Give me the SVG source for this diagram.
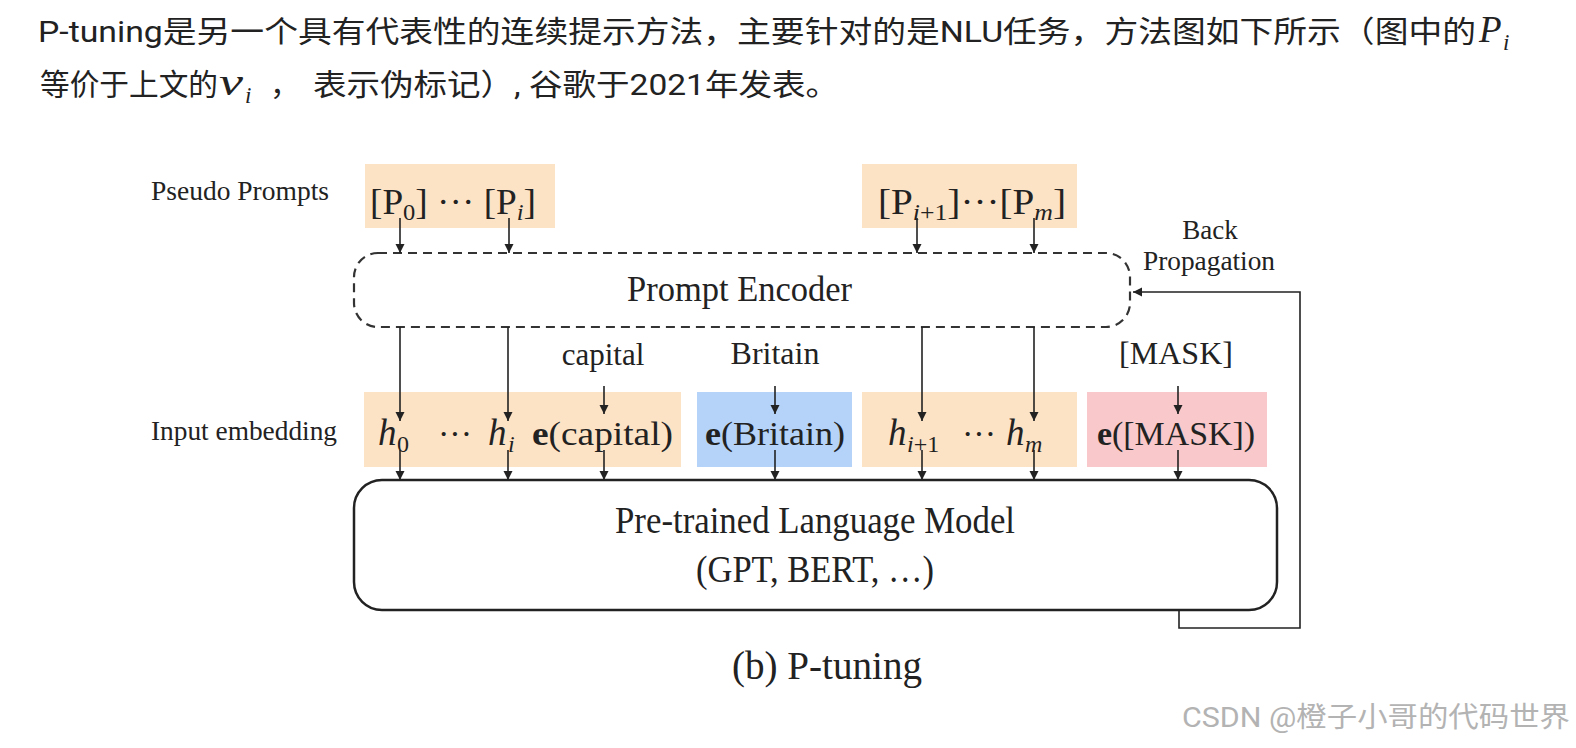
<svg xmlns="http://www.w3.org/2000/svg" width="1576" height="748" viewBox="0 0 1576 748">
<style>
.para{font-family:Roboto,"Noto Sans CJK SC",sans-serif;font-size:30px;fill:#222}
.mi{font-family:"Liberation Serif",serif;font-style:italic;fill:#222}
.t{font-family:"Liberation Serif",serif;fill:#222}
.lbl{font-size:27px}
.peach{fill:#fde3c6}
.blue{fill:#b5d3f8}
.pink{fill:#f8c8ca}
.ar{stroke:#222;stroke-width:1.6;fill:none;marker-end:url(#ah)}
.b{font-weight:bold}
</style>
<defs>
<marker id="ah" viewBox="0 0 10 10" refX="10" refY="5" markerWidth="9" markerHeight="10" markerUnits="userSpaceOnUse" orient="auto">
<path d="M0,0 L10,5 L0,10 z" fill="#222"/>
</marker>
</defs>
<rect width="1576" height="748" fill="#fff"/>

<g id="paragraph">
<text class="para" x="38" y="42" textLength="1438" lengthAdjust="spacingAndGlyphs">P-tuning是另一个具有代表性的连续提示方法，主要针对的是NLU任务，方法图如下所示（图中的</text>
<text class="mi" x="1479" y="42" font-size="37">P</text>
<text class="mi" x="1503" y="50" font-size="23">i</text>
<text class="para" x="40" y="95" textLength="178" lengthAdjust="spacingAndGlyphs">等价于上文的</text>
<text class="mi" x="219" y="95" font-size="38" textLength="24" lengthAdjust="spacingAndGlyphs">v</text>
<text class="mi" x="245" y="103" font-size="23">i</text>
<text class="para" x="270" y="95">，</text>
<text class="para" x="313" y="95" textLength="526" lengthAdjust="spacingAndGlyphs">表示伪标记）, 谷歌于2021年发表。</text>
</g>

<g id="row-labels">
<text class="t lbl" x="151" y="200" textLength="178" lengthAdjust="spacingAndGlyphs">Pseudo Prompts</text>
<text class="t lbl" x="151" y="440" textLength="186" lengthAdjust="spacingAndGlyphs">Input embedding</text>
</g>

<g id="pseudo-prompts-1">
<rect class="peach" x="365" y="164" width="190" height="64"/>
<text class="t" x="370" y="214" font-size="35" textLength="166" lengthAdjust="spacingAndGlyphs">[P<tspan font-size="23" dy="6">0</tspan><tspan dy="-6">] ··· [P</tspan><tspan class="mi" font-size="23" dy="6">i</tspan><tspan dy="-6">]</tspan></text>
</g>

<g id="pseudo-prompts-2">
<rect class="peach" x="862" y="164" width="215" height="64"/>
<text class="t" x="878" y="214" font-size="35" textLength="188" lengthAdjust="spacingAndGlyphs">[P<tspan class="mi" font-size="23" dy="6">i</tspan><tspan font-size="23">+1</tspan><tspan dy="-6">]···[P</tspan><tspan class="mi" font-size="23" dy="6">m</tspan><tspan dy="-6">]</tspan></text>
</g>

<g id="prompt-encoder">
<rect x="354" y="253" width="776" height="74" rx="24" fill="none" stroke="#333" stroke-width="2.2" stroke-dasharray="9 6"/>
<text class="t" x="627" y="301" font-size="35" textLength="225" lengthAdjust="spacingAndGlyphs">Prompt Encoder</text>
</g>

<g id="back-propagation-label">
<text class="t lbl" x="1210" y="239" text-anchor="middle">Back</text>
<text class="t lbl" x="1209" y="270" text-anchor="middle" textLength="132" lengthAdjust="spacingAndGlyphs">Propagation</text>
</g>

<g id="word-labels">
<text class="t" x="603" y="365" font-size="31" text-anchor="middle">capital</text>
<text class="t" x="775" y="364" font-size="32" text-anchor="middle">Britain</text>
<text class="t" x="1176" y="364" font-size="32" text-anchor="middle">[MASK]</text>
</g>

<g id="embed-1">
<rect class="peach" x="364" y="392" width="317" height="75"/>
<text class="mi" x="378" y="445" font-size="37">h</text>
<text class="t" x="397" y="452" font-size="24">0</text>
<text class="t" x="438" y="445" font-size="34">···</text>
<text class="mi" x="488" y="445" font-size="37">h</text>
<text class="mi" x="508" y="452" font-size="24">i</text>
<text class="t" x="532" y="445" font-size="34" textLength="141" lengthAdjust="spacingAndGlyphs"><tspan class="b">e</tspan>(capital)</text>
</g>

<g id="embed-2">
<rect class="blue" x="697" y="392" width="155" height="75"/>
<text class="t" x="705" y="445" font-size="34" textLength="140" lengthAdjust="spacingAndGlyphs"><tspan class="b">e</tspan>(Britain)</text>
</g>

<g id="embed-3">
<rect class="peach" x="862" y="392" width="215" height="75"/>
<text class="mi" x="888" y="445" font-size="37">h</text>
<text class="t" x="907" y="452" font-size="24"><tspan class="mi">i</tspan>+1</text>
<text class="t" x="962" y="445" font-size="34">···</text>
<text class="mi" x="1006" y="445" font-size="37">h</text>
<text class="mi" x="1025" y="452" font-size="24">m</text>
</g>

<g id="embed-4">
<rect class="pink" x="1087" y="392" width="180" height="75"/>
<text class="t" x="1097" y="445" font-size="34" textLength="158" lengthAdjust="spacingAndGlyphs"><tspan class="b">e</tspan>([MASK])</text>
</g>

<g id="plm">
<rect x="354" y="480" width="923" height="130" rx="28" fill="#fff" stroke="#222" stroke-width="2.5"/>
<text class="t" x="815" y="533" font-size="38" text-anchor="middle" textLength="400" lengthAdjust="spacingAndGlyphs">Pre-trained Language Model</text>
<text class="t" x="815" y="582" font-size="38" text-anchor="middle" textLength="238" lengthAdjust="spacingAndGlyphs">(GPT, BERT, …)</text>
</g>

<g id="caption">
<text class="t" x="827" y="679" font-size="39" text-anchor="middle" textLength="190" lengthAdjust="spacingAndGlyphs">(b) P-tuning</text>
</g>

<g id="watermark">
<text x="1570" y="727" font-family="Roboto,'Noto Sans CJK SC',sans-serif" font-size="28" fill="#b3b3b3" text-anchor="end" textLength="388" lengthAdjust="spacingAndGlyphs">CSDN @橙子小哥的代码世界</text>
</g>

<g id="connectors">
<line class="ar" x1="400" y1="218" x2="400" y2="253"/>
<line class="ar" x1="509" y1="218" x2="509" y2="253"/>
<line class="ar" x1="917" y1="218" x2="917" y2="253"/>
<line class="ar" x1="1034" y1="218" x2="1034" y2="253"/>
<line class="ar" x1="400" y1="327" x2="400" y2="421"/>
<line class="ar" x1="508" y1="327" x2="508" y2="421"/>
<line class="ar" x1="922" y1="327" x2="922" y2="421"/>
<line class="ar" x1="1034" y1="327" x2="1034" y2="421"/>
<line class="ar" x1="604" y1="386" x2="604" y2="414"/>
<line class="ar" x1="775" y1="386" x2="775" y2="414"/>
<line class="ar" x1="1178" y1="386" x2="1178" y2="414"/>
<line class="ar" x1="400" y1="450" x2="400" y2="480"/>
<line class="ar" x1="508" y1="450" x2="508" y2="480"/>
<line class="ar" x1="604" y1="450" x2="604" y2="480"/>
<line class="ar" x1="775" y1="450" x2="775" y2="480"/>
<line class="ar" x1="922" y1="450" x2="922" y2="480"/>
<line class="ar" x1="1034" y1="450" x2="1034" y2="480"/>
<line class="ar" x1="1178" y1="450" x2="1178" y2="480"/>
<polyline class="ar" stroke-width="2" points="1179,610 1179,628 1300,628 1300,292 1133,292"/>
</g>
</svg>
